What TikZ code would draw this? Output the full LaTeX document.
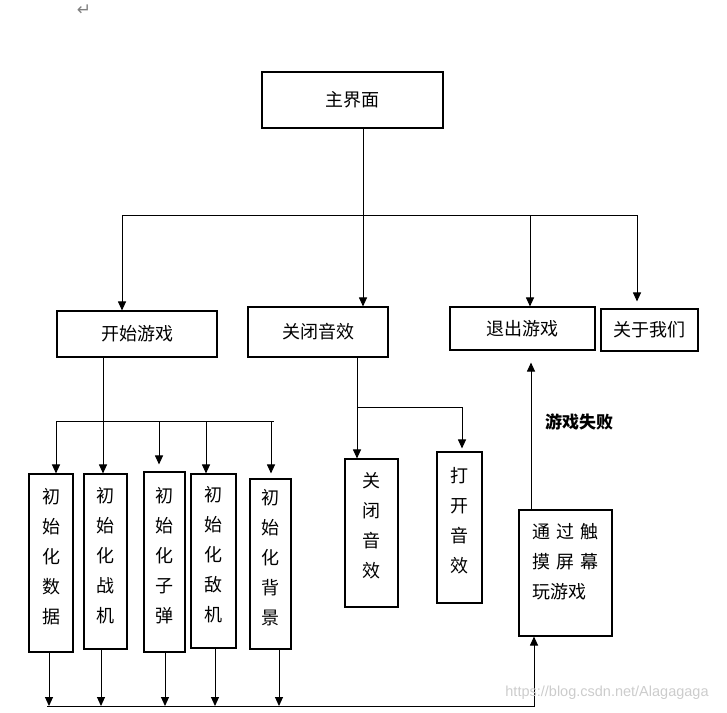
\documentclass[tikz,border=0pt]{standalone}
\usepackage{fontspec}
\newfontfamily\cjk{Noto Sans CJK SC}
\newfontfamily\symb{DejaVu Sans}
\setsansfont{Liberation Sans}
\usetikzlibrary{arrows.meta}

\begin{document}
\begin{tikzpicture}[x=1pt,y=-1pt,
box/.style={draw,rectangle,line width=1.1pt,inner sep=0pt,align=center,
font=\cjk\fontsize{18}{30}\selectfont},
arr/.style={line width=1pt,-{Triangle[length=9pt,width=8pt]}},
wire/.style={line width=1pt}]
\useasboundingbox (0,0) rectangle (727,712);
% The main screen and its four choices:
\node [box,minimum width=181,minimum height=56] (main) at (352.5,100) {主界面};
\foreach \name/\x/\y/\w/\h/\txt in {start/137/334/160/46/开始游戏,
mute/318/332/140/50/关闭音效,quit/522.5/328.5/145/43/退出游戏,
about/649.5/330/97/42/关于我们}
{
\node [box,minimum width=\w,minimum height=\h] (\name) at (\x,\y) {\txt};
}
% Now the boxes of the lower row:
\foreach \i/\x/\y/\w/\h/\txt in {1/51/563/44/178/{初\\始\\化\\数\\据},
2/105.5/561.5/43/175/{初\\始\\化\\战\\机},3/164.5/562/41/180/{初\\始\\化\\子\\弹},
4/213.5/561/45/174/{初\\始\\化\\敌\\机},5/270.5/564/41/170/{初\\始\\化\\背\\景}}
{
\node [box,minimum width=\w,minimum height=\h,text depth=14pt] (init \i) at (\x,\y) {\txt};
}
\node [box,minimum width=53,minimum height=148,text depth=16pt] (sound off)
at (371.5,533) {关\\闭\\音\\效};
\node [box,minimum width=45,minimum height=151,text depth=16pt] (sound on)
at (459.5,527.5) {打\\开\\音\\效};
\node [box,minimum width=93,minimum height=126,align=left,text depth=24pt] (touch)
at (565.5,573) {通\hspace{6pt}过\hspace{6pt}触\\摸\hspace{6pt}屏\hspace{6pt}幕\\玩游戏};
% The bus under the main screen:
\coordinate (bus west) at (122,215);
\coordinate (bus east) at (637,215);
\coordinate (bus mute) at (363,215);
\coordinate (bus quit) at (530,215);
\draw [wire] (bus west) -- (bus east);
\draw [arr] (main.south -| bus mute) -- (mute.north -| bus mute);
\draw [arr] (bus west) -- (bus west |- start.north);
\draw [arr] (bus quit) -- (bus quit |- quit.north);
\draw [arr,shorten >=7] (bus east) -- (bus east |- about.north);
% Start game feeds the five init boxes:
\coordinate (init west) at (56,421);
\coordinate (init east) at (274,421);
\coordinate (drop 2) at (103,421);
\draw [wire] (init west) -- (init east);
\draw [arr] (start.south -| drop 2) -- (drop 2 |- init 2.north);
\foreach \i/\x/\gap in {1/56/0,3/159/7,4/206/0,5/271/5}
{
\coordinate (drop \i) at (\x,421);
\draw [arr,shorten >=\gap] (drop \i) -- (drop \i |- init \i.north);
}
% Sound switch:
\coordinate (sound split) at (357,407);
\draw [arr] (mute.south -| sound split) -- (sound off.north -| sound split);
\draw [arr,shorten >=3] (sound split) -| ([xshift=2.5]sound on.north);
% Back to the touch box and out to quit:
\coordinate (back west) at (47,706);
\foreach \i/\dx in {1/-2,2/-4.5,3/0.5,4/1.5,5/8.5}
{
\draw [arr] ([xshift=\dx]init \i.south) -- ([xshift=\dx]init \i.south |- back west);
}
\draw [arr] (back west) -| ([xshift=-31.5]touch.south);
\draw [arr,shorten >=12] ([xshift=-34.5]touch.north)
-- ([xshift=-34.5]touch.north |- quit.south);
\node [font=\cjk\bfseries\fontsize{17}{20}\selectfont] (fail label) at (579,422)
{游戏失败};
% Page marks:
\node [font=\symb\fontsize{17}{19}\selectfont,text=gray] (return mark) at (84,10) {↵};
\node [font=\sffamily\fontsize{14.5}{17}\selectfont,text=gray!40] (watermark)
at (607,693) {https://blog.csdn.net/Alagagaga};
\end{tikzpicture}
\end{document}
